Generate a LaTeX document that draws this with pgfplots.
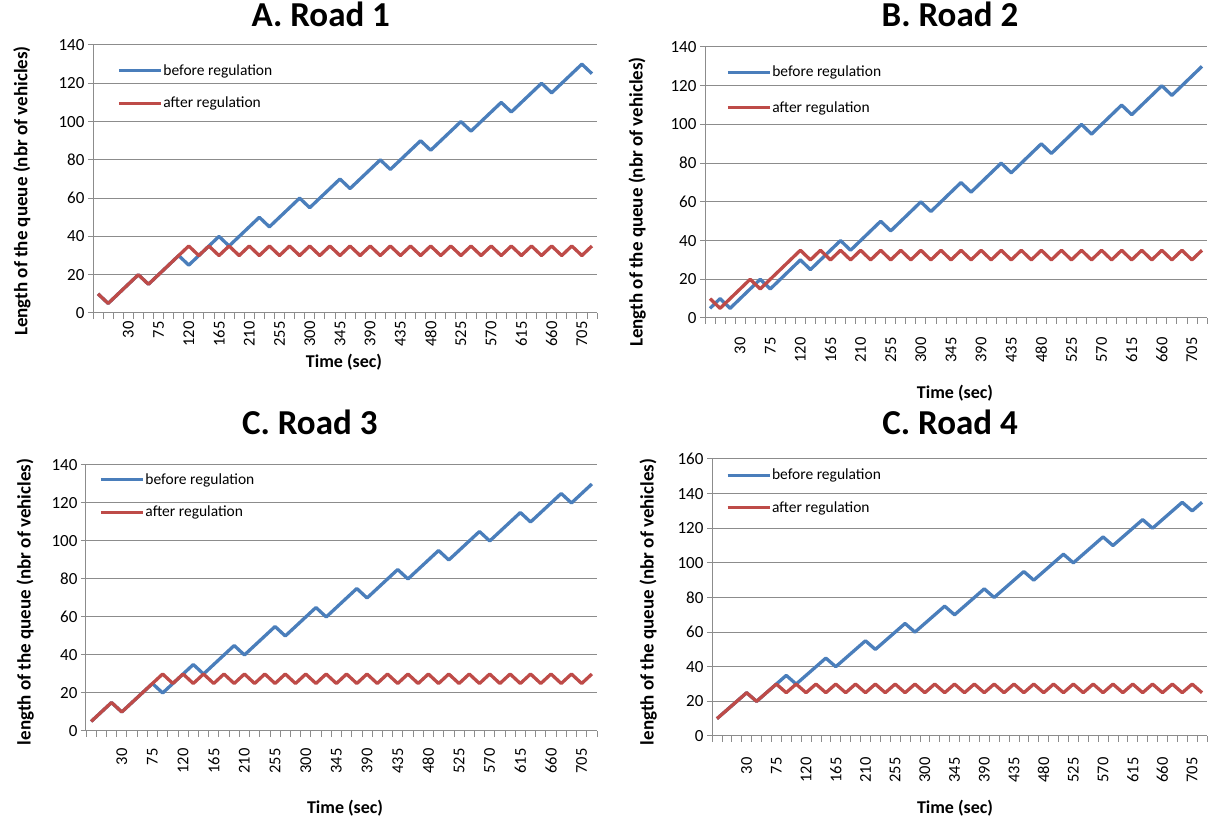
\documentclass[border=0pt]{standalone}
\usepackage{fontspec}
\setmainfont{Carlito}
\usepackage{pgfplots}
\pgfplotsset{compat=1.18}
\definecolor{blueL}{HTML}{4A7EBB}
\definecolor{redL}{HTML}{BE4B48}
\definecolor{gridC}{HTML}{8C8C8C}
\def\labsp{0pt}
\newcommand{\xl}[1]{#1\hspace*{\labsp}}
\pgfplotsset{
  roadaxis/.style={
    scale only axis,
    axis lines=left,
    axis line style={-, gridC, line width=1pt},
    ymin=0,
    xmin=-0.5, xmax=49.5,
    xtick={3,6,...,48},
    xticklabels={\xl{30},\xl{75},\xl{120},\xl{165},\xl{210},\xl{255},\xl{300},\xl{345},\xl{390},\xl{435},\xl{480},\xl{525},\xl{570},\xl{615},\xl{660},\xl{705}},
    major x tick style={draw=none},
    minor xtick={-0.5,0.5,...,49.5},
    minor x tick style={gridC, line width=0.8pt},
    minor tick length=6pt,
    major tick length=5pt,
    xtick align=outside, ytick align=outside,
    y tick style={gridC, line width=1pt},
    ymajorgrids,
    grid style={gridC, line width=1pt},
    xticklabel style={rotate=90, anchor=east, font=\fontsize{16.5}{16.5}\selectfont},
    yticklabel style={font=\fontsize{17}{17}\selectfont},
    /pgf/number format/assume math mode=true,
    title style={anchor=center, font=\bfseries\fontsize{35}{35}\selectfont},
    xlabel style={anchor=center, font=\bfseries\fontsize{18}{18}\selectfont},
    ylabel style={anchor=center, font=\bfseries\fontsize{19}{19}\selectfont},
    xlabel={Time (sec)},
    legend cell align=left,
    legend style={draw=none, fill=none, anchor=north west, row sep=18pt,
      inner xsep=0pt, inner ysep=0pt,
      font=\fontsize{15.5}{15.5}\selectfont,
      nodes={inner sep=1pt}},
    legend image code/.code={\draw[##1, line width=3pt] (0pt,0pt) -- (42pt,0pt);},
    every axis plot/.append style={line width=3.3pt, line join=round, no markers},
  }
}
\begin{document}
\begin{tikzpicture}
\useasboundingbox (0,0) rectangle (1211pt,822pt);
% ---------- A ----------
\def\labsp{0pt}
\begin{axis}[roadaxis,
  at={(93pt,509pt)}, anchor=south west, width=504pt, height=268pt,
  ymax=140, ytick={0,20,...,140},
  title={A. Road 1}, title style={at={(axis description cs:0.452,1.093)}},
  ylabel={Length of the queue (nbr of vehicles)},
  ylabel style={at={(axis description cs:-0.141,0.455)}},
  xlabel style={at={(axis description cs:0.498,-0.183)}},
  legend style={at={(axis description cs:0.048,0.931)}},
]
\addplot[color=blueL] coordinates {
(0,10)(1,5)(2,10)(3,15)(4,20)(5,15)(6,20)(7,25)(8,30)(9,25)(10,30)(11,35)(12,40)(13,35)(14,40)(15,45)(16,50)(17,45)(18,50)(19,55)(20,60)(21,55)(22,60)(23,65)(24,70)(25,65)(26,70)(27,75)(28,80)(29,75)(30,80)(31,85)(32,90)(33,85)(34,90)(35,95)(36,100)(37,95)(38,100)(39,105)(40,110)(41,105)(42,110)(43,115)(44,120)(45,115)(46,120)(47,125)(48,130)(49,125)};
\addplot[color=redL] coordinates {
(0,10)(1,5)(2,10)(3,15)(4,20)(5,15)(6,20)(7,25)(8,30)(9,35)(10,30)(11,35)(12,30)(13,35)(14,30)(15,35)(16,30)(17,35)(18,30)(19,35)(20,30)(21,35)(22,30)(23,35)(24,30)(25,35)(26,30)(27,35)(28,30)(29,35)(30,30)(31,35)(32,30)(33,35)(34,30)(35,35)(36,30)(37,35)(38,30)(39,35)(40,30)(41,35)(42,30)(43,35)(44,30)(45,35)(46,30)(47,35)(48,30)(49,35)};
\legend{before regulation, after regulation}
\end{axis}
% ---------- B ----------
\def\labsp{11pt}
\begin{axis}[roadaxis,
  at={(705pt,504pt)}, anchor=south west, width=502pt, height=271pt,
  ymax=140, ytick={0,20,...,140},
  title={B. Road 2}, title style={at={(axis description cs:0.488,1.100)}},
  ylabel={Length of the queue (nbr of vehicles)},
  ylabel style={at={(axis description cs:-0.135,0.428)}},
  xlabel style={at={(axis description cs:0.498,-0.277)}},
  legend style={at={(axis description cs:0.042,0.934)}, row sep=21pt},
]
\addplot[color=blueL] coordinates {
(0,5)(1,10)(2,5)(3,10)(4,15)(5,20)(6,15)(7,20)(8,25)(9,30)(10,25)(11,30)(12,35)(13,40)(14,35)(15,40)(16,45)(17,50)(18,45)(19,50)(20,55)(21,60)(22,55)(23,60)(24,65)(25,70)(26,65)(27,70)(28,75)(29,80)(30,75)(31,80)(32,85)(33,90)(34,85)(35,90)(36,95)(37,100)(38,95)(39,100)(40,105)(41,110)(42,105)(43,110)(44,115)(45,120)(46,115)(47,120)(48,125)(49,130)};
\addplot[color=redL] coordinates {
(0,10)(1,5)(2,10)(3,15)(4,20)(5,15)(6,20)(7,25)(8,30)(9,35)(10,30)(11,35)(12,30)(13,35)(14,30)(15,35)(16,30)(17,35)(18,30)(19,35)(20,30)(21,35)(22,30)(23,35)(24,30)(25,35)(26,30)(27,35)(28,30)(29,35)(30,30)(31,35)(32,30)(33,35)(34,30)(35,35)(36,30)(37,35)(38,30)(39,35)(40,30)(41,35)(42,30)(43,35)(44,30)(45,35)(46,30)(47,35)(48,30)(49,35)};
\legend{before regulation, after regulation}
\end{axis}
% ---------- C ----------
\def\labsp{9pt}
\begin{axis}[roadaxis,
  at={(86pt,91pt)}, anchor=south west, width=511pt, height=266pt,
  ymax=140, ytick={0,20,...,140},
  title={C. Road 3}, title style={at={(axis description cs:0.438,1.139)}},
  ylabel={length of the queue (nbr of vehicles)},
  ylabel style={at={(axis description cs:-0.119,0.485)}},
  xlabel style={at={(axis description cs:0.507,-0.289)}},
  legend style={at={(axis description cs:0.026,0.972)}},
]
\addplot[color=blueL] coordinates {
(0,5)(1,10)(2,15)(3,10)(4,15)(5,20)(6,25)(7,20)(8,25)(9,30)(10,35)(11,30)(12,35)(13,40)(14,45)(15,40)(16,45)(17,50)(18,55)(19,50)(20,55)(21,60)(22,65)(23,60)(24,65)(25,70)(26,75)(27,70)(28,75)(29,80)(30,85)(31,80)(32,85)(33,90)(34,95)(35,90)(36,95)(37,100)(38,105)(39,100)(40,105)(41,110)(42,115)(43,110)(44,115)(45,120)(46,125)(47,120)(48,125)(49,130)};
\addplot[color=redL] coordinates {
(0,5)(1,10)(2,15)(3,10)(4,15)(5,20)(6,25)(7,30)(8,25)(9,30)(10,25)(11,30)(12,25)(13,30)(14,25)(15,30)(16,25)(17,30)(18,25)(19,30)(20,25)(21,30)(22,25)(23,30)(24,25)(25,30)(26,25)(27,30)(28,25)(29,30)(30,25)(31,30)(32,25)(33,30)(34,25)(35,30)(36,25)(37,30)(38,25)(39,30)(40,25)(41,30)(42,25)(43,30)(44,25)(45,30)(46,25)(47,30)(48,25)(49,30)};
\legend{before regulation, after regulation}
\end{axis}
% ---------- D ----------
\def\labsp{13pt}
\begin{axis}[roadaxis,
  at={(712pt,86pt)}, anchor=south west, width=495pt, height=277pt,
  ymax=160, ytick={0,20,...,160},
  title={C. Road 4}, title style={at={(axis description cs:0.481,1.112)}},
  ylabel={length of the queue (nbr of vehicles)},
  ylabel style={at={(axis description cs:-0.129,0.484)}},
  xlabel style={at={(axis description cs:0.491,-0.260)}},
  legend style={at={(axis description cs:0.028,0.968)}},
]
\addplot[color=blueL] coordinates {
(0,10)(1,15)(2,20)(3,25)(4,20)(5,25)(6,30)(7,35)(8,30)(9,35)(10,40)(11,45)(12,40)(13,45)(14,50)(15,55)(16,50)(17,55)(18,60)(19,65)(20,60)(21,65)(22,70)(23,75)(24,70)(25,75)(26,80)(27,85)(28,80)(29,85)(30,90)(31,95)(32,90)(33,95)(34,100)(35,105)(36,100)(37,105)(38,110)(39,115)(40,110)(41,115)(42,120)(43,125)(44,120)(45,125)(46,130)(47,135)(48,130)(49,135)};
\addplot[color=redL] coordinates {
(0,10)(1,15)(2,20)(3,25)(4,20)(5,25)(6,30)(7,25)(8,30)(9,25)(10,30)(11,25)(12,30)(13,25)(14,30)(15,25)(16,30)(17,25)(18,30)(19,25)(20,30)(21,25)(22,30)(23,25)(24,30)(25,25)(26,30)(27,25)(28,30)(29,25)(30,30)(31,25)(32,30)(33,25)(34,30)(35,25)(36,30)(37,25)(38,30)(39,25)(40,30)(41,25)(42,30)(43,25)(44,30)(45,25)(46,30)(47,25)(48,30)(49,25)};
\legend{before regulation, after regulation}
\end{axis}
\end{tikzpicture}
\end{document}
